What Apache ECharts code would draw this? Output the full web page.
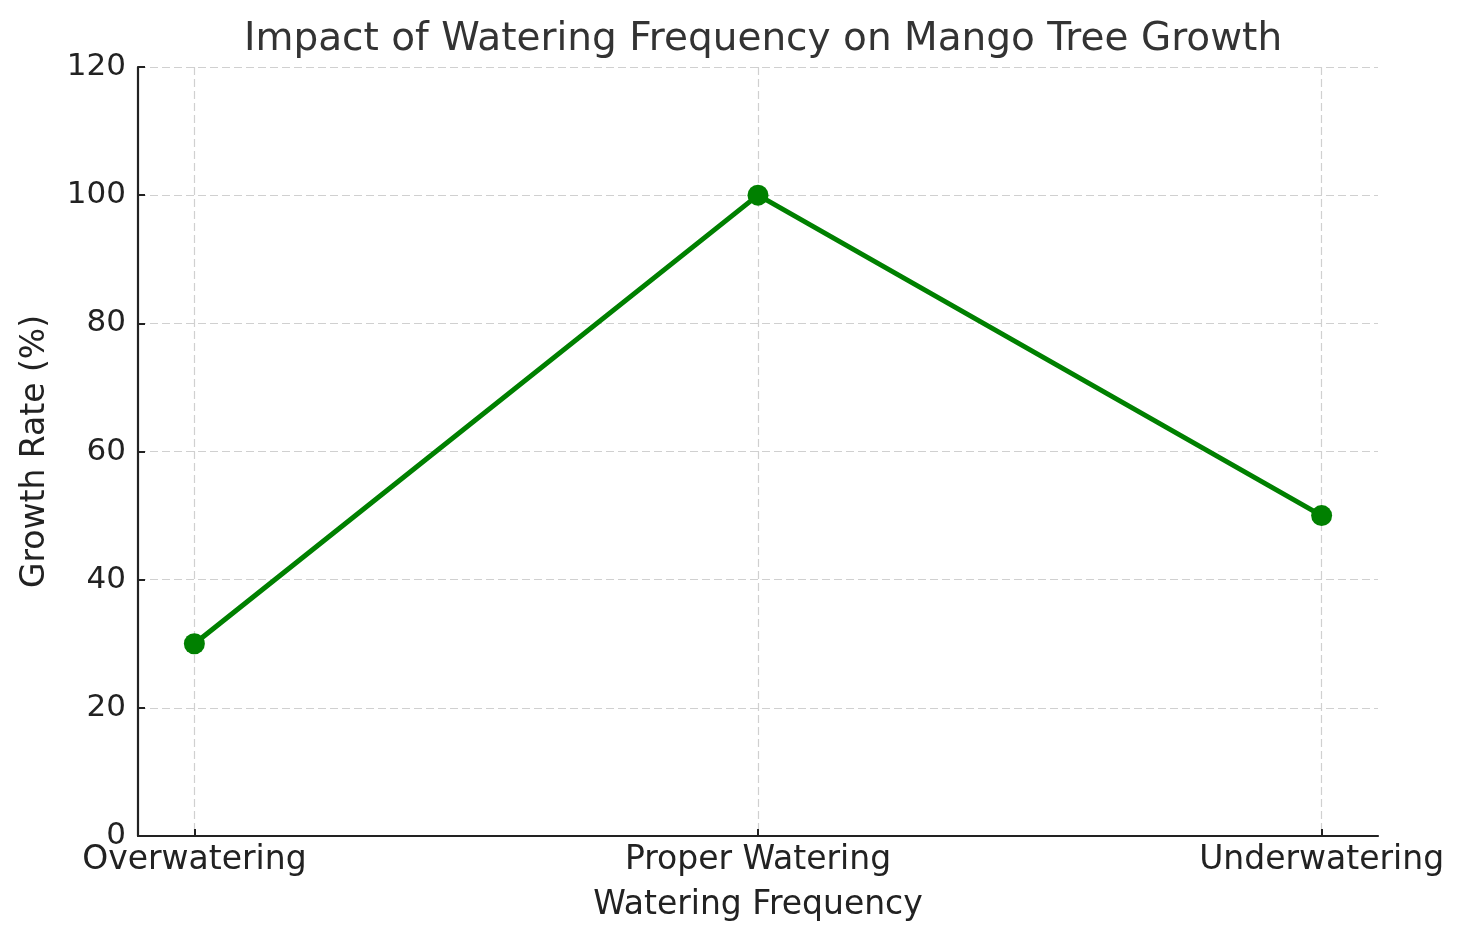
<!DOCTYPE html>
<html><head><meta charset="utf-8">
<script src="https://cdn.jsdelivr.net/npm/echarts@6/dist/echarts.min.js"></script>
<style>html,body{margin:0;padding:0;background:#fff}#c{width:1465px;height:943px}</style>
</head><body><div id="c"></div>
<script>
const categories = ['Overwatering', 'Proper Watering', 'Underwatering'];
const growthRate = [30, 100, 50];
const yTicks = [0, 20, 40, 60, 80, 100, 120];

const positions = categories.map((c, i) => i);
const seriesData = growthRate.map((v, i) => [i, v]);
const font = 'DejaVu Sans';
const chart = echarts.init(document.getElementById('c'));
chart.setOption({
  animation: false,
  backgroundColor: '#fff',
  title: {
    text: 'Impact of Watering Frequency on Mango Tree Growth',
    left: 758, top: 15, textAlign: 'center',
    textStyle: {fontFamily: font, fontSize: 39, fontWeight: 'normal', color: '#333'}
  },
  grid: {left: 138, right: 87, top: 67, bottom: 107},
  xAxis: {
    type: 'value', min: -0.1, max: 2.1,
    name: 'Watering Frequency', nameLocation: 'middle', nameGap: 53,
    nameTextStyle: {fontFamily: font, fontSize: 33, color: '#222'},
    axisLine: {show: true, onZero: false, lineStyle: {color: '#222', width: 2.2}},
    axisTick: {show: true, inside: true, length: 7, customValues: positions, lineStyle: {color: '#222', width: 2}},
    axisLabel: {customValues: positions, formatter: v => categories[Math.round(v)], fontFamily: font, fontSize: 33, color: '#222', margin: 8},
    splitLine: {show: true, customValues: positions, lineStyle: {color: '#d0d0d0', type: [8, 4], width: 1.2}}
  },
  yAxis: {
    type: 'value', min: yTicks[0], max: yTicks[yTicks.length - 1], interval: 20,
    name: 'Growth Rate (%)', nameLocation: 'middle', nameGap: 86, nameRotate: 90,
    nameTextStyle: {fontFamily: font, fontSize: 33, color: '#222'},
    axisLine: {show: true, onZero: false, lineStyle: {color: '#222', width: 2.2}},
    axisTick: {show: true, inside: true, length: 7, lineStyle: {color: '#222', width: 2}},
    axisLabel: {fontFamily: font, fontSize: 31, color: '#222', margin: 12},
    splitLine: {show: true, lineStyle: {color: '#d0d0d0', type: [8, 4], width: 1.2}}
  },
  series: [{
    type: 'line', data: seriesData,
    symbol: 'circle', symbolSize: 21,
    lineStyle: {color: '#008000', width: 5},
    itemStyle: {color: '#008000'}
  }]
});
</script></body></html>
